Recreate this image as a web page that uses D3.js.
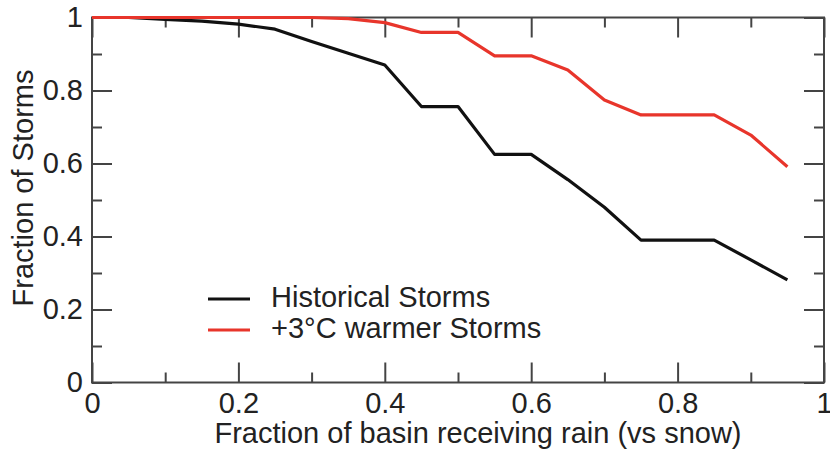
<!DOCTYPE html>
<html>
<head>
<meta charset="utf-8">
<script src="https://cdn.jsdelivr.net/npm/d3@7"></script>
<style>
  html, body { margin: 0; padding: 0; background: #fff; }
  svg { display: block; font-family: "Liberation Sans", Arial, Helvetica, sans-serif; }
</style>
</head>
<body>
<svg id="chart" width="830" height="452"></svg>
<script>
// ---- Data ----
const xValues = [0, 0.05, 0.1, 0.15, 0.2, 0.25, 0.3, 0.35, 0.4, 0.45, 0.5, 0.55, 0.6, 0.65, 0.7, 0.75, 0.8, 0.85, 0.9, 0.95];
const historical = [1, 1, 0.995, 0.99, 0.982, 0.968, 0.934, 0.902, 0.870, 0.756, 0.756, 0.625, 0.625, 0.556, 0.48, 0.39, 0.39, 0.39, 0.336, 0.281];
const warmer = [1, 1, 1, 1, 1, 1, 1, 0.997, 0.986, 0.959, 0.959, 0.895, 0.895, 0.856, 0.774, 0.733, 0.733, 0.733, 0.678, 0.591];
const seriesNames = ["Historical Storms", "+3\u00B0C warmer Storms"];
const seriesColors = ["#111111", "#e8352b"];
const majorTicks = [0, 0.2, 0.4, 0.6, 0.8, 1];
const minorTicks = [0.1, 0.3, 0.5, 0.7, 0.9];
const tickLabels = ["0", "0.2", "0.4", "0.6", "0.8", "1"];
const xTitle = "Fraction of basin receiving rain (vs snow)";
const yTitle = "Fraction of Storms";

// ---- Layout ----
const L = 92, R = 824, T = 17.5, B = 382.5;
const svg = d3.select("#chart");
const x = d3.scaleLinear().domain([0, 1]).range([L, R]);
const y = d3.scaleLinear().domain([0, 1]).range([B, T]);
const axisColor = "#444";
const fontSize = 29;

function fmt(d) { return tickLabels[majorTicks.indexOf(d)]; }

// axes: ticks pointing inward
function styleAxis(g) {
  g.select(".domain").remove();
  g.selectAll("line").attr("stroke", axisColor).attr("stroke-width", 2);
  g.selectAll("text").attr("fill", "#222").style("font-size", fontSize + "px")
    .style("font-family", "'Liberation Sans', Arial, sans-serif");
}
// bottom major
svg.append("g").attr("transform", `translate(0,${B})`)
  .call(d3.axisBottom(x).tickValues(majorTicks).tickSize(-20).tickPadding(10).tickFormat(fmt))
  .call(styleAxis);
svg.append("g").attr("transform", `translate(0,${B})`)
  .call(d3.axisBottom(x).tickValues(minorTicks).tickSize(-10).tickFormat(""))
  .call(styleAxis);
// top
svg.append("g").attr("transform", `translate(0,${T})`)
  .call(d3.axisTop(x).tickValues(majorTicks).tickSize(-20).tickFormat(""))
  .call(styleAxis);
svg.append("g").attr("transform", `translate(0,${T})`)
  .call(d3.axisTop(x).tickValues(minorTicks).tickSize(-10).tickFormat(""))
  .call(styleAxis);
// left
svg.append("g").attr("transform", `translate(${L},0)`)
  .call(d3.axisLeft(y).tickValues(majorTicks).tickSize(-20).tickPadding(9).tickFormat(fmt))
  .call(styleAxis);
svg.append("g").attr("transform", `translate(${L},0)`)
  .call(d3.axisLeft(y).tickValues(minorTicks).tickSize(-10).tickFormat(""))
  .call(styleAxis);
// right
svg.append("g").attr("transform", `translate(${R},0)`)
  .call(d3.axisRight(y).tickValues(majorTicks).tickSize(-20).tickFormat(""))
  .call(styleAxis);
svg.append("g").attr("transform", `translate(${R},0)`)
  .call(d3.axisRight(y).tickValues(minorTicks).tickSize(-10).tickFormat(""))
  .call(styleAxis);

// frame
svg.append("rect").attr("x", L).attr("y", T).attr("width", R - L).attr("height", B - T)
  .attr("fill", "none").attr("stroke", axisColor).attr("stroke-width", 2);

// lines
const line = d3.line().x((d, i) => x(xValues[i])).y(d => y(d));
[historical, warmer].forEach((s, k) => {
  svg.append("path").datum(s).attr("d", line)
    .attr("fill", "none").attr("stroke", seriesColors[k])
    .attr("stroke-width", 3.2).attr("stroke-linejoin", "round");
});

// legend
const legend = svg.append("g");
seriesNames.forEach((name, k) => {
  const ly = 299 + k * 31;
  legend.append("line").attr("x1", 208).attr("x2", 250).attr("y1", ly).attr("y2", ly)
    .attr("stroke", seriesColors[k]).attr("stroke-width", 3.2);
  legend.append("text").attr("x", 271).attr("y", ly + 8).attr("fill", "#222")
    .style("font-size", fontSize + "px").text(name);
});

// titles
svg.append("text").attr("x", 478).attr("y", 443).attr("text-anchor", "middle")
  .attr("fill", "#222").style("font-size", fontSize + "px").text(xTitle);
svg.append("text").attr("transform", "translate(33,188) rotate(-90)").attr("text-anchor", "middle")
  .attr("fill", "#222").style("font-size", fontSize + "px").text(yTitle);
</script>
</body>
</html>
